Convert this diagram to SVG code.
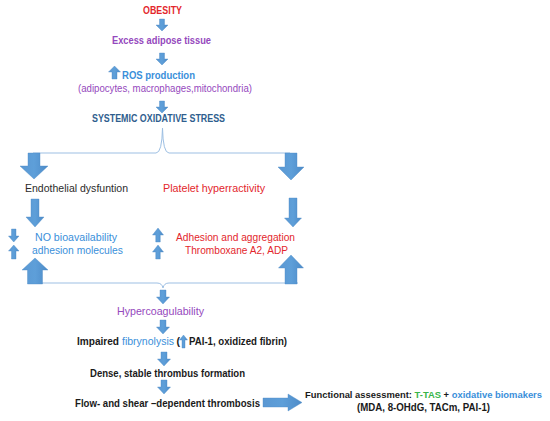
<svg xmlns="http://www.w3.org/2000/svg" width="550" height="421" viewBox="0 0 550 421">
<style>
text{font-family:"Liberation Sans",Arial,sans-serif;font-size:10.5px}
.b{font-weight:bold}
.c{text-anchor:middle}
.red{fill:#e3262c}
.pur{fill:#9548bd}
.blu{fill:#3a8fda}
.dkb{fill:#2f5e8e}
.blk{fill:#1a1a1a}
.grn{fill:#38b54a}
.arr{fill:url(#g);stroke:#4f8cc6;stroke-width:0.4}
.brace{fill:none;stroke:#9dbfe3;stroke-width:1}
</style>
<defs>
<linearGradient id="g" x1="0" y1="0" x2="1" y2="0">
<stop offset="0" stop-color="#5a98d3"/>
<stop offset="0.5" stop-color="#5e9fd9"/>
<stop offset="1" stop-color="#4d8bc8"/>
</linearGradient>
</defs>
<rect width="550" height="421" fill="#ffffff"/>

<g id="connectors">
<path class="brace" d="M33,153 H156 Q162,153 162.5,128 Q163,153 169,153 H290"/>
<path class="brace" d="M28,283 H157 Q162,283 163,288 Q164,283 169,283 H298"/>
<path class="arr" d="M159.5,19 H164.5 V25 H168 L162,31 L156,25 H159.5 Z"/>
<path class="arr" d="M159.5,53 H164.5 V59 H168 L162,65 L156,59 H159.5 Z"/>
<path class="arr" d="M159.5,101 H164.5 V107 H168 L162,113 L156,107 H159.5 Z"/>
<path class="arr" d="M28,153 H40 V166 H48 L34,179 L20,166 H28 Z"/>
<path class="arr" d="M285,153 H297 V167 H304 L291,180 L278,167 H285 Z"/>
<path class="arr" d="M31,199 H39 V217 H44 L35,227 L26,217 H31 Z"/>
<path class="arr" d="M289,198 H297 V218 H301.5 L293,227 L284.5,218 H289 Z"/>
<path class="arr" d="M27.5,284 H42.5 V270 H48 L35,258 L22,270 H27.5 Z"/>
<path class="arr" d="M285,284 H297 V268 H303.5 L291,255 L278.5,268 H285 Z"/>
<path class="arr" d="M160,290 H166 V297 H169.5 L163,304 L156.5,297 H160 Z"/>
<path class="arr" d="M160,320 H166 V327 H169.5 L163,334 L156.5,327 H160 Z"/>
<path class="arr" d="M161,352 H167 V359 H170.5 L164,366 L157.5,359 H161 Z"/>
<path class="arr" d="M161,380 H167 V387 H170.5 L164,394 L157.5,387 H161 Z"/>
<path class="arr" d="M263,398 H288 V394 L302,402.5 L288,411 V407 H263 Z"/>
</g>

<g id="obesity"><text class="b c red" x="162.5" y="14" textLength="39" lengthAdjust="spacingAndGlyphs">OBESITY</text></g>
<g id="adipose"><text class="b c pur" x="161.5" y="44" textLength="99" lengthAdjust="spacingAndGlyphs">Excess adipose tissue</text></g>
<g id="ros">
<path class="arr" d="M112,79 H117 V72 H120.5 L114.5,66 L108.5,72 H112 Z"/>
<text class="b blu" x="122" y="79" textLength="73" lengthAdjust="spacingAndGlyphs">ROS production</text>
<text class="c pur" x="165" y="92" textLength="174" lengthAdjust="spacingAndGlyphs">(adipocytes, macrophages,mitochondria)</text>
</g>
<g id="stress"><text class="b c dkb" x="158.5" y="122" textLength="133" lengthAdjust="spacingAndGlyphs">SYSTEMIC OXIDATIVE STRESS</text></g>
<g id="endothelial"><text x="25" y="192" fill="#2b2b2b" textLength="103" lengthAdjust="spacingAndGlyphs">Endothelial dysfuntion</text></g>
<g id="platelet"><text class="red" x="163" y="192" textLength="102" lengthAdjust="spacingAndGlyphs">Platelet hyperractivity</text></g>
<g id="no">
<path class="arr" d="M11.5,229 H16 V236 H19 L13.75,242 L8.5,236 H11.5 Z"/>
<path class="arr" d="M11.5,259 H16 V251 H19 L13.75,245 L8.5,251 H11.5 Z"/>
<text class="blu" x="35" y="241" textLength="82" lengthAdjust="spacingAndGlyphs">NO bioavailability</text>
<text class="blu" x="32" y="254" textLength="91" lengthAdjust="spacingAndGlyphs">adhesion molecules</text>
</g>
<g id="adhesion">
<path class="arr" d="M155.75,242 H160.25 V235 H163.5 L158,228 L152.5,235 H155.75 Z"/>
<path class="arr" d="M155.75,259 H160.25 V252 H163.5 L158,245 L152.5,252 H155.75 Z"/>
<text class="red" x="176" y="241" textLength="119" lengthAdjust="spacingAndGlyphs">Adhesion and aggregation</text>
<text class="red" x="185" y="254" textLength="103" lengthAdjust="spacingAndGlyphs">Thromboxane A2, ADP</text>
</g>
<g id="hypercoag"><text class="c pur" x="160.5" y="315" textLength="87" lengthAdjust="spacingAndGlyphs">Hypercoagulability</text></g>
<g id="fibrinolysis">
<text class="b blk" x="77" y="345" textLength="42" lengthAdjust="spacingAndGlyphs">Impaired</text>
<text class="blu" x="122" y="345" textLength="52" lengthAdjust="spacingAndGlyphs">fibrynolysis</text>
<text class="b blk" x="176.5" y="345">(</text>
<path class="arr" d="M182,348 H185 V340 H187.5 L183.5,335 L179.5,340 H182 Z"/>
<text class="b blk" x="189" y="345" textLength="98" lengthAdjust="spacingAndGlyphs">PAI-1, oxidized fibrin)</text>
</g>
<g id="thrombus"><text class="b c blk" x="167.5" y="377" textLength="155" lengthAdjust="spacingAndGlyphs">Dense, stable thrombus formation</text></g>
<g id="flow"><text class="b c blk" x="167.5" y="407" textLength="185" lengthAdjust="spacingAndGlyphs">Flow- and shear –dependent thrombosis</text></g>
<g id="assessment">
<text class="b blk" x="305" y="398" font-size="9" textLength="237" lengthAdjust="spacingAndGlyphs" style="font-size:9px">Functional assessment: <tspan class="grn">T-TAS</tspan> + <tspan class="blu">oxidative biomakers</tspan></text>
<text class="b c blk" x="423.5" y="411" textLength="133" lengthAdjust="spacingAndGlyphs">(MDA, 8-OHdG, TACm, PAI-1)</text>
</g>
</svg>
